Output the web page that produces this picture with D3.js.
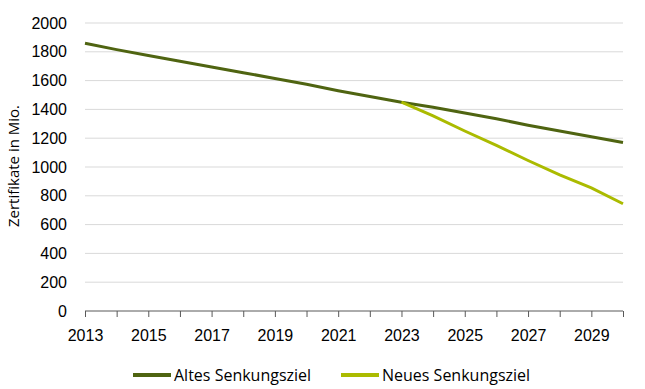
<!DOCTYPE html>
<html>
<head>
<meta charset="utf-8">
<script src="https://cdn.jsdelivr.net/npm/d3@7"></script>
<style>
  html, body { margin: 0; padding: 0; background: #fff; }
  svg { display: block; font-family: "Open Sans", Lato, sans-serif; }
  .grid line { stroke: #d9d9d9; stroke-width: 1; }
  .tick text { fill: #000; font-size: 16px; }
</style>
</head>
<body>
<div id="chart"></div>
<script>
// Werte
var years = d3.range(2013, 2031);
var altes = [1860, 1815, 1775, 1735, 1695, 1655, 1615, 1575, 1530, 1490, 1450, 1415, 1375, 1335, 1290, 1250, 1210, 1170];
var neuesYears = [2023, 2024, 2025, 2026, 2027, 2028, 2029, 2030];
var neues = [1450, 1355, 1250, 1150, 1045, 945, 855, 745];
var yTicks = [0, 200, 400, 600, 800, 1000, 1200, 1400, 1600, 1800, 2000];
var xLabels = [2013, 2015, 2017, 2019, 2021, 2023, 2025, 2027, 2029];

var width = 645, height = 389;
var margin = { top: 23, right: 22, bottom: 78, left: 85 };

var svg = d3.select('#chart').append('svg')
  .attr('width', width)
  .attr('height', height);

var x = d3.scaleLinear().domain([2013, 2030]).range([margin.left, width - margin.right]);
var y = d3.scaleLinear().domain([0, 2000]).range([height - margin.bottom, margin.top]);

// Gitterlinien
svg.append('g').attr('class', 'grid')
  .selectAll('line')
  .data(yTicks.filter(function (d) { return d > 0; }))
  .enter().append('line')
  .attr('x1', x(2013)).attr('x2', x(2030))
  .attr('y1', function (d) { return y(d); })
  .attr('y2', function (d) { return y(d); });

// y-Achse (nur Beschriftung)
var yAxis = svg.append('g')
  .attr('transform', 'translate(' + margin.left + ',0)')
  .call(d3.axisLeft(y).tickValues(yTicks).tickSize(0).tickPadding(18).tickFormat(d3.format('d')));
yAxis.select('.domain').remove();

// x-Achse: Striche jedes Jahr, Beschriftung jedes zweite
var xAxis = svg.append('g')
  .attr('transform', 'translate(0,' + y(0) + ')')
  .call(d3.axisBottom(x).tickValues(years).tickSize(6).tickPadding(10)
    .tickFormat(function (d) { return xLabels.indexOf(d) >= 0 ? d : ''; }));
xAxis.select('.domain').attr('stroke', '#595959').attr('d', 'M' + x(2013) + ',0H' + x(2030));
xAxis.selectAll('.tick line').attr('stroke', '#595959');
xAxis.selectAll('.tick text').attr('dy', '0.9em');

var line = d3.line()
  .x(function (d) { return x(d[0]); })
  .y(function (d) { return y(d[1]); });

svg.append('path')
  .datum(years.map(function (yr, i) { return [yr, altes[i]]; }))
  .attr('fill', 'none')
  .attr('stroke', '#4f6411')
  .attr('stroke-width', 3)
  .attr('d', line);

svg.append('path')
  .datum(neuesYears.map(function (yr, i) { return [yr, neues[i]]; }))
  .attr('fill', 'none')
  .attr('stroke', '#abbb00')
  .attr('stroke-width', 3)
  .attr('d', line);

// Achsentitel
svg.append('text')
  .attr('transform', 'translate(19,' + (y(1000) - 1) + ') rotate(-90)')
  .attr('text-anchor', 'middle')
  .attr('font-size', 15)
  .text('Zertifikate in Mio.');

// Legende
var legend = [
  { name: 'Altes Senkungsziel', color: '#4f6411', x: 133 },
  { name: 'Neues Senkungsziel', color: '#abbb00', x: 341 }
];
var lg = svg.selectAll('.legend').data(legend).enter().append('g')
  .attr('transform', function (d) { return 'translate(' + d.x + ',375)'; });
lg.append('line')
  .attr('x1', 0).attr('x2', 38).attr('y1', 0).attr('y2', 0)
  .attr('stroke', function (d) { return d.color; })
  .attr('stroke-width', 4);
lg.append('text')
  .attr('x', 41).attr('y', 5.5)
  .attr('font-size', 16)
  .text(function (d) { return d.name; });
</script>
</body>
</html>
